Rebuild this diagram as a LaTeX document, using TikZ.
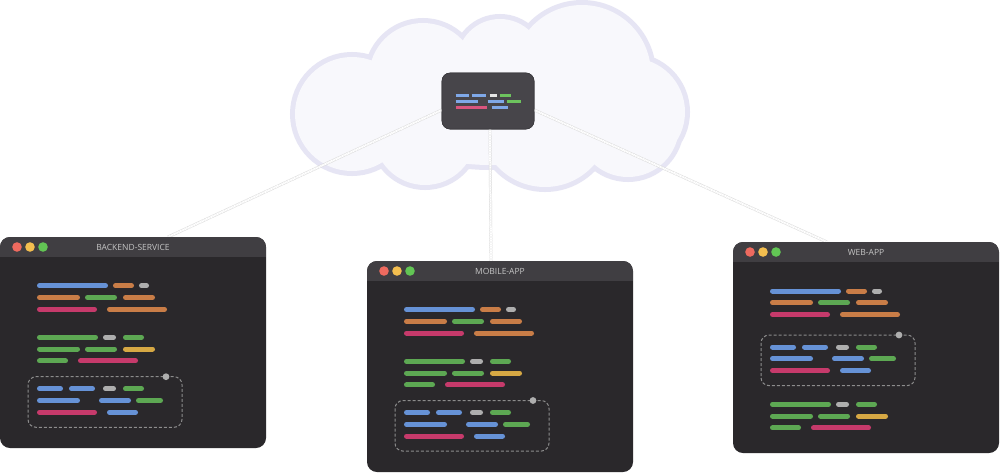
\documentclass[tikz,border=0pt]{standalone}
\usepackage{fontspec}
\newfontfamily\titlefont{Open Sans}
\definecolor{cloudline}{HTML}{E6E5F4}
\definecolor{cloudfill}{HTML}{F8F8FC}
\definecolor{hubfill}{HTML}{47454A}
\definecolor{winbody}{HTML}{2A282B}
\definecolor{titlebar}{HTML}{403E42}
\definecolor{tlred}{HTML}{EE6A5F}
\definecolor{tlyellow}{HTML}{F3BE4F}
\definecolor{tlgreen}{HTML}{62C554}
\definecolor{cblue}{HTML}{6692D6}
\definecolor{corange}{HTML}{C97D47}
\definecolor{cgray}{HTML}{AEAEAE}
\definecolor{cgreen}{HTML}{5DA853}
\definecolor{cpink}{HTML}{C63A6B}
\definecolor{cyellow}{HTML}{D6A844}
\definecolor{hblue}{HTML}{7FA8E8}
\definecolor{hgreen}{HTML}{6DC35E}
\definecolor{hpink}{HTML}{D9557E}
\definecolor{hwhite}{HTML}{E6E6E6}
\definecolor{dashcol}{HTML}{8C8C8C}
\definecolor{titletext}{HTML}{C4C4C4}
\tikzset{
  winnode/.style={minimum width=266pt, minimum height=211pt, inner sep=0pt, outer sep=0pt, anchor=north west, fill=winbody, rounded corners=10pt},
  hubnode/.style={minimum width=92pt, minimum height=56pt, inner sep=0pt, fill=hubfill, draw=hubfill!85!black, line width=0.6pt, rounded corners=8pt},
  conn/.style={draw=black!16, line width=0.45pt, double=white, double distance=2pt, dash pattern=on 1.2pt off 0.5pt},
  codebar/.style={line width=5pt, line cap=round},
  hubbar/.style={line width=3pt, line cap=butt},
  groupbox/.style={draw=dashcol, line width=1pt, dash pattern=on 3pt off 2pt, rounded corners=8pt},
  wintitle/.style={text=titletext, font=\titlefont\fontsize{8.5}{10}\selectfont, inner sep=0pt}
}
\newcommand{\cb}[4]{\draw[codebar,#1] (#2+2.5,#4) -- (#3-2.5,#4);}
\newcommand{\hb}[4]{\draw[hubbar,#1] (#2,#4) -- (#3,#4);}
\newcommand{\blockA}[1]{%
  \cb{cblue}{37}{108}{#1}\cb{corange}{113}{134}{#1}\cb{cgray}{139}{149}{#1}
  \cb{corange}{37}{80}{#1+11.8}\cb{cgreen}{85}{117}{#1+11.8}\cb{corange}{123}{155}{#1+11.8}
  \cb{cpink}{37}{97}{#1+23.6}\cb{corange}{107}{167}{#1+23.6}}
\newcommand{\blockB}[1]{%
  \cb{cgreen}{37}{98}{#1}\cb{cgray}{103}{116}{#1}\cb{cgreen}{123}{144}{#1}
  \cb{cgreen}{37}{80}{#1+11.8}\cb{cgreen}{85}{117}{#1+11.8}\cb{cyellow}{123}{155}{#1+11.8}
  \cb{cgreen}{37}{68}{#1+23.6}\cb{cpink}{78}{138}{#1+23.6}}
\newcommand{\blockC}[1]{%
  \draw[groupbox] (28,#1-12) rectangle (182,#1+38.6);
  \fill[cgray] (166,#1-12) circle (3.4pt);
  \cb{cblue}{37}{63}{#1}\cb{cblue}{69}{95}{#1}\cb{cgray}{103}{116}{#1}\cb{cgreen}{123}{144}{#1}
  \cb{cblue}{37}{80}{#1+11.8}\cb{cblue}{99}{131}{#1+11.8}\cb{cgreen}{136}{163}{#1+11.8}
  \cb{cpink}{37}{97}{#1+23.6}\cb{cblue}{107}{138}{#1+23.6}}
% window chrome: #1 node name, #2 title
\newcommand{\chrome}[2]{%
  \begin{scope}[shift={(#1.north west)}]
    \begin{scope}
      \clip[rounded corners=10pt] (0,0) rectangle (266,211);
      \fill[titlebar] (0,0) rectangle (266,19.5);
    \end{scope}
    \fill[tlred] (17,10) circle (4.8pt);
    \fill[tlyellow] (30,10) circle (4.8pt);
    \fill[tlgreen] (43,10) circle (4.8pt);
    \node[wintitle] (#1-title) at (133,10) {#2};
  \end{scope}}
\begin{document}
\begin{tikzpicture}[x=1pt,y=-1pt]
\useasboundingbox (0,0) rectangle (1000,472);
\fill[white] (0,0) rectangle (1000,472);
% cloud
\def\cloudshapes{
  (352,114) circle (57pt)
  (423,77) circle (54pt)
  (500,62) circle (43pt)
  (582,74) circle (69pt)
  (631,112) circle (54pt)
  (628,126) circle (51pt)
  (545,122) circle (65pt)
  (425,134) circle (51pt)
  (490,110) ellipse (110pt and 55pt)}
\draw[cloudline, line width=10pt] \cloudshapes;
\fill[cloudfill] \cloudshapes;
% nodes
\node[hubnode] (hub) at (488,101) {};
\node[winnode] (backend) at (0,237) {};
\node[winnode] (mobile) at (367,261) {};
\node[winnode] (webapp) at (733,242) {};
% connectors
\draw[conn] ([yshift=-9pt]hub.west) -- ([xshift=35pt]backend.north);
\draw[conn] ([xshift=2pt]hub.south) -- ([xshift=-9pt]mobile.north);
\draw[conn] ([yshift=-9pt]hub.east) -- ([xshift=-39pt]webapp.north);
% hub redraw on top + bars
\node[hubnode] (hubtop) at (488,101) {};
\begin{scope}[shift={(hub.north west)}]
  \hb{hblue}{14}{27}{23}\hb{hblue}{30}{44}{23}\hb{hwhite}{48}{55}{23}\hb{hgreen}{58}{69}{23}
  \hb{hblue}{14}{36}{29}\hb{hblue}{46}{62}{29}\hb{hgreen}{65}{79}{29}
  \hb{hpink}{14}{45}{35}\hb{hblue}{50}{66}{35}
\end{scope}
% windows
\chrome{backend}{BACKEND-SERVICE}
\begin{scope}[shift={(backend.north west)}]
  \blockA{48.7}\blockB{100.3}\blockC{151.7}
\end{scope}
\chrome{mobile}{MOBILE-APP}
\begin{scope}[shift={(mobile.north west)}]
  \blockA{48.5}\blockB{100.3}\blockC{151.5}
\end{scope}
\chrome{webapp}{WEB-APP}
\begin{scope}[shift={(webapp.north west)}]
  \blockA{49}\blockC{105}\blockB{162.3}
\end{scope}
\end{tikzpicture}
\end{document}
